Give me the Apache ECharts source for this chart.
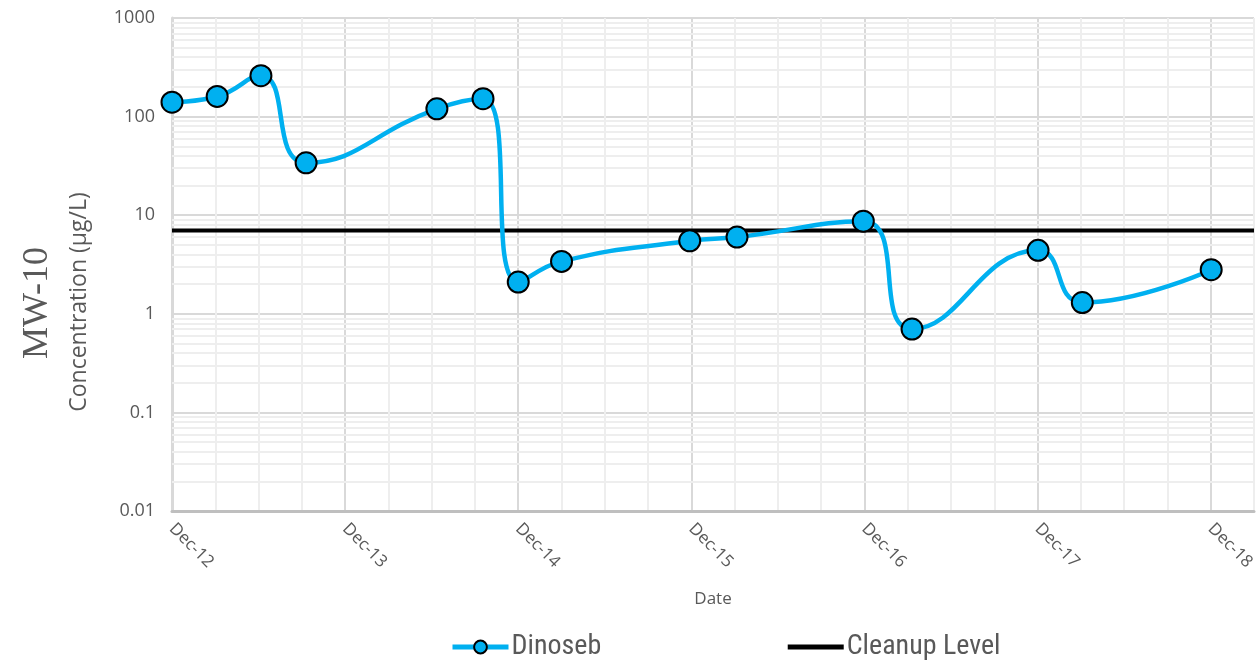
<!DOCTYPE html>
<html>
<head>
<meta charset="utf-8">
<script src="https://cdn.jsdelivr.net/npm/echarts@6/dist/echarts.min.js"></script>
<style>
  html, body { margin: 0; padding: 0; background: #fff; }
  #chart { width: 1258px; height: 660px; }
</style>
</head>
<body>
<div id="chart"></div>
<script>
// sample dates and Dinoseb results (ug/L)
const sampleDates = [
  "2012-12-01", "2013-03-05", "2013-06-06", "2013-09-10",
  "2014-06-12", "2014-09-18", "2014-12-01", "2015-03-01",
  "2015-11-28", "2016-03-06", "2016-11-29", "2017-03-10",
  "2017-12-02", "2018-03-04", "2018-12-02"
];
const dinoseb = [140, 160, 260, 34, 120, 152, 2.1, 3.4, 5.5, 6.0, 8.7, 0.7, 4.4, 1.3, 2.8];
const cleanupLevel = 7;
const yTicks = [0.01, 0.1, 1, 10, 100, 1000];

// x axis runs in months since Dec-12 (labels every 12, gridlines every 3)
const axisStart = { year: 2012, month: 12 };
const axisEndMonths = 75;

function toMonths(s) {
  const [y, m, d] = s.split("-").map(Number);
  return (y - axisStart.year) * 12 + (m - axisStart.month) + (d - 1) / 30.44;
}

function monthLabel(v) {
  if (Math.round(v) % 12 !== 0) return "";
  const yr = axisStart.year + Math.round(v) / 12;
  return "Dec-" + String(yr % 100).padStart(2, "0");
}

// minor log gridlines (2..9 in each decade)
const minorLines = [];
for (let e = -2; e < 3; e++) {
  for (let k = 2; k <= 9; k++) minorLines.push({ yAxis: k * Math.pow(10, e) });
}

const chart = echarts.init(document.getElementById("chart"), null, { renderer: "canvas" });

const textColor = "#595959";
const font = "'Open Sans', Roboto, sans-serif";
const narrow = "'Liberation Sans Narrow', 'Roboto Condensed', Roboto, sans-serif";

chart.setOption({
  animation: false,
  grid: { left: 172, right: 4, top: 18, bottom: 149, containLabel: false },
  graphic: [
    {
      type: "text",
      x: 38, y: 303,
      rotation: Math.PI / 2,
      style: {
        text: "MW-10",
        font: "36px 'Liberation Serif', 'DejaVu Serif', serif",
        fill: textColor,
        align: "center",
        verticalAlign: "middle"
      }
    },
    {
      type: "text",
      x: 79, y: 302,
      rotation: Math.PI / 2,
      style: {
        text: "Concentration (μg/L)",
        font: "23px 'Open Sans', Roboto, sans-serif",
        fill: textColor,
        align: "center",
        verticalAlign: "middle"
      }
    }
  ],
  legend: {
    left: 445,
    top: 628,
    itemGap: 184,
    itemWidth: 56,
    itemHeight: 16,
    textStyle: { color: textColor, fontSize: 28, fontFamily: narrow, padding: [0, 0, 0, -2] },
    data: [
      { name: "Dinoseb", lineStyle: { width: 5 } },
      { name: "Cleanup Level", lineStyle: { width: 5 }, itemStyle: { opacity: 0 } }
    ]
  },
  xAxis: {
    type: "value",
    min: 0,
    max: axisEndMonths,
    interval: 3,
    name: "Date",
    nameLocation: "middle",
    nameGap: 80,
    nameTextStyle: { color: textColor, fontSize: 17, fontFamily: font },
    axisLine: { show: true, lineStyle: { color: "#bfbfbf", width: 3 } },
    axisTick: { show: false },
    axisLabel: {
      color: textColor, fontSize: 17, fontFamily: font,
      rotate: -45, margin: 15,
      formatter: monthLabel,
      showMaxLabel: false
    },
    splitLine: {
      show: true,
      lineStyle: { color: ["#d9d9d9", "#eeeeee", "#eeeeee", "#eeeeee"], width: 2 }
    }
  },
  yAxis: {
    type: "log",
    logBase: 10,
    min: yTicks[0],
    max: yTicks[yTicks.length - 1],
    axisLine: { show: true, lineStyle: { color: "#d9d9d9", width: 3 } },
    axisTick: { show: false },
    axisLabel: {
      color: textColor, fontSize: 18, fontFamily: font, margin: 17,
      formatter: v => String(yTicks.reduce((a, b) => Math.abs(b - v) < Math.abs(a - v) ? b : a))
    },
    splitLine: { show: true, lineStyle: { color: "#d9d9d9", width: 2 } }
  },
  series: [
    {
      name: "grid-minor",
      type: "line",
      data: [],
      silent: true,
      z: 1,
      markLine: {
        silent: true,
        z: 1,
        symbol: "none",
        animation: false,
        label: { show: false },
        emphasis: { disabled: true },
        lineStyle: { color: "#eeeeee", width: 2, type: "solid" },
        data: minorLines
      }
    },
    {
      name: "Cleanup Level",
      type: "line",
      data: [[0, cleanupLevel], [axisEndMonths, cleanupLevel]],
      showSymbol: false,
      lineStyle: { color: "#000", width: 4 },
      itemStyle: { color: "#000", borderWidth: 0, opacity: 0 },
      z: 3
    },
    {
      name: "Dinoseb",
      type: "line",
      data: sampleDates.map((d, i) => [toMonths(d), dinoseb[i]]),
      smooth: 0.5,
      symbol: "circle",
      symbolSize: 21,
      lineStyle: { color: "#00b0f0", width: 4.5 },
      itemStyle: { color: "#00b0f0", borderColor: "#000", borderWidth: 2 },
      z: 4
    }
  ]
});
</script>
</body>
</html>
